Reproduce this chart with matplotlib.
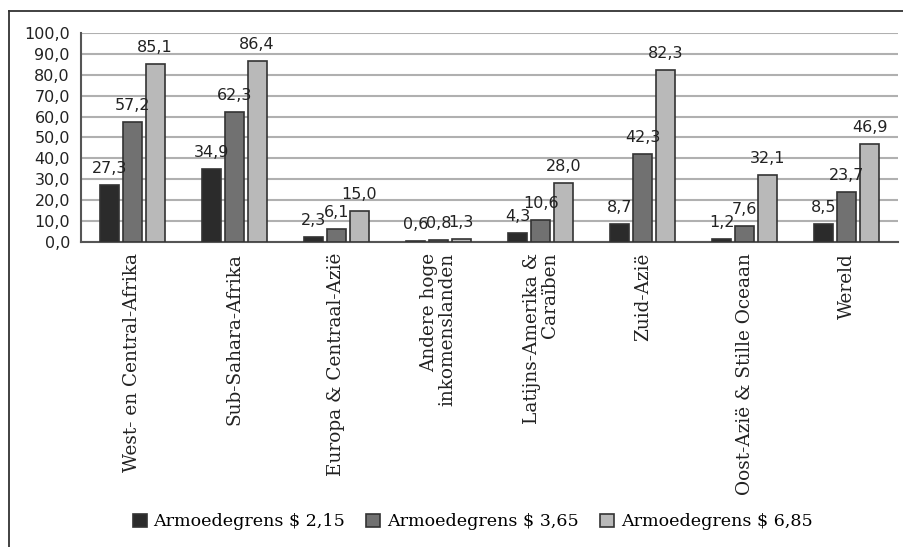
import numpy as np
import matplotlib
matplotlib.use("Agg")
import matplotlib.pyplot as plt
from matplotlib.lines import Line2D
from matplotlib.ticker import FuncFormatter

categories = [
    "West- en Central-Afrika",
    "Sub-Sahara-Afrika",
    "Europa & Centraal-Azië",
    "Andere hoge\ninkomenslanden",
    "Latijns-Amerika &\nCaraïben",
    "Zuid-Azië",
    "Oost-Azië & Stille Oceaan",
    "Wereld",
]
series_names = ["Armoedegrens $ 2,15", "Armoedegrens $ 3,65", "Armoedegrens $ 6,85"]
vals_215 = [27.3, 34.9, 2.3, 0.6, 4.3, 8.7, 1.2, 8.5]
vals_365 = [57.2, 62.3, 6.1, 0.8, 10.6, 42.3, 7.6, 23.7]
vals_685 = [85.1, 86.4, 15.0, 1.3, 28.0, 82.3, 32.1, 46.9]
colors = ["#2b2b2b", "#717171", "#b9b9b9"]

SANS = "DejaVu Sans"
SERIF = "DejaVu Serif"

fig = plt.figure(figsize=(9.04, 5.47), dpi=100)
ax = fig.add_axes([0.0896, 0.5576, 0.9038, 0.3821])

x = np.arange(len(categories))
width = 0.186
step = 0.225
for i, (vals, col, name) in enumerate(zip((vals_215, vals_365, vals_685), colors, series_names)):
    pos = x + (i - 1) * step
    ax.bar(pos, vals, width, color=col, edgecolor="#333333", linewidth=1.2,
           label=name, zorder=3)
    for xp, v in zip(pos, vals):
        ax.annotate(f"{v:.1f}".replace(".", ","), (xp, v), xytext=(0, 6.5),
                    textcoords="offset points", ha="center", va="bottom",
                    fontsize=11.5, family=SANS, color="#222222", zorder=4)

ax.set_xlim(-0.5, len(categories) - 0.5)
ax.set_ylim(0, 100)
ax.set_yticks(np.arange(0, 101, 10))
ax.yaxis.set_major_formatter(FuncFormatter(lambda v, p: f"{v:.1f}".replace(".", ",")))
ax.tick_params(axis="y", length=0, pad=8, labelsize=11.5, labelcolor="#222222")
for lab in ax.get_yticklabels():
    lab.set_family(SANS)
ax.set_xticks(x)
ax.set_xticklabels(categories, rotation=90, family=SERIF, fontsize=13.3,
                   color="#222222", linespacing=1.0, multialignment="right")
ax.tick_params(axis="x", length=0, pad=8)
ax.grid(axis="y", color="#b0b0b0", linewidth=1.5, zorder=0)
for s in ("top", "right"):
    ax.spines[s].set_visible(False)
for s in ("left", "bottom"):
    ax.spines[s].set_color("#555555")
    ax.spines[s].set_linewidth(1.5)

fig.legend(loc="center", bbox_to_anchor=(0.523, 0.046), ncol=3, frameon=False,
           prop={"family": SERIF, "size": 12.6}, handlelength=0.8,
           handleheight=0.8, handletextpad=0.4, columnspacing=1.2)

# outer frame (left and top edges only, as in the source image)
fig.add_artist(Line2D([9 / 904, 9 / 904], [0, 1 - 11 / 547], color="#333333",
                      linewidth=1.3, transform=fig.transFigure))
fig.add_artist(Line2D([9 / 904, 1], [1 - 11 / 547, 1 - 11 / 547], color="#333333",
                      linewidth=1.3, transform=fig.transFigure))

fig.savefig("out.png", dpi=100)
